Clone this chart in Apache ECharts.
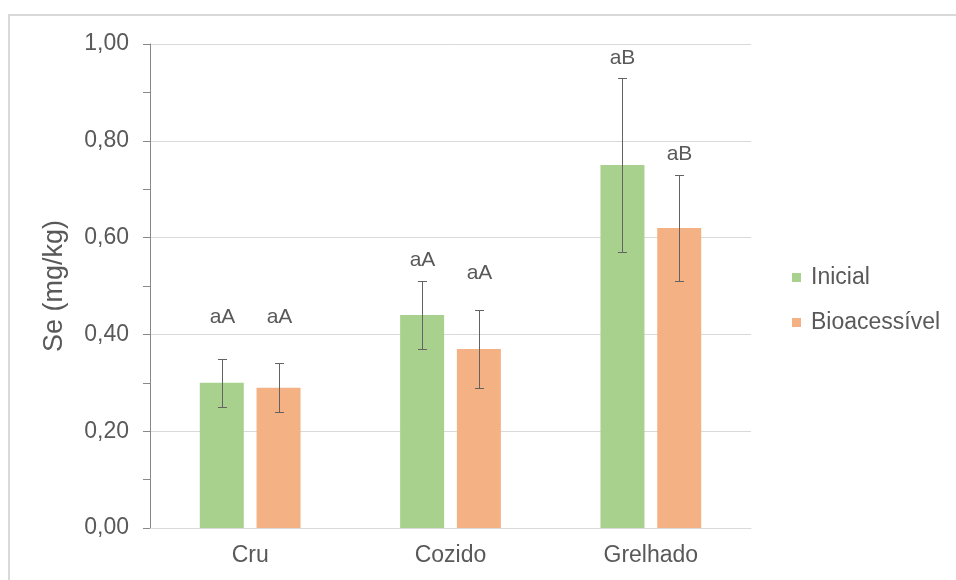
<!DOCTYPE html>
<html>
<head>
<meta charset="utf-8">
<script src="https://cdn.jsdelivr.net/npm/echarts@6/dist/echarts.min.js"></script>
<style>
  html, body { margin: 0; padding: 0; background: #ffffff; }
  #chart { width: 956px; height: 580px; }
</style>
</head>
<body>
<div id="chart"></div>
<script>
// Selenium content (mg/kg) by preparation, initial vs bioaccessible fraction
const categories = ['Cru', 'Cozido', 'Grelhado'];
const inicial = [0.30, 0.44, 0.75];
const inicialSd = [0.05, 0.07, 0.18];
const bioacessivel = [0.29, 0.37, 0.62];
const bioacessivelSd = [0.05, 0.08, 0.11];
const inicialLetters = ['aA', 'aA', 'aB'];
const bioacessivelLetters = ['aA', 'aA', 'aB'];
const yTicks = [0, 0.2, 0.4, 0.6, 0.8, 1.0];

// Layout / style settings
const FONT = "'Liberation Sans', Arial, sans-serif";
const TEXT = '#595959';
const GREEN = '#A9D18E';
const ORANGE = '#F4B183';
const BAR_W = 44;
const BAR_GAP = 0.29;
// distance (px) from the top of each error bar to the centre of its letter label
const inicialLetterLift = [41, 21, 20];
const bioLetterLift = [46, 37, 20];

const fmt = v => v.toFixed(2).replace('.', ',');

function errorSeries(name, values, sds, letters, lifts, side) {
  const data = values.map((v, i) => [i, v, sds[i]]);
  return {
    type: 'custom',
    name: name + ' DP',
    z: 5,
    silent: true,
    data: data,
    encode: { x: 0, y: 1 },
    renderItem: function (params, api) {
      const i = api.value(0);
      const v = api.value(1);
      const sd = api.value(2);
      const off = side * (BAR_W + BAR_W * BAR_GAP) / 2;
      const top = api.coord([i, v + sd]);
      const bot = api.coord([i, v - sd]);
      const x = Math.round(top[0] + off) + 0.5;
      const y1 = Math.round(top[1]) + 0.5;
      const y2 = Math.round(bot[1]) + 0.5;
      const cap = 4.5;
      const st = { stroke: '#636363', lineWidth: 1 };
      return {
        type: 'group',
        children: [
          { type: 'line', shape: { x1: x, y1: y1, x2: x, y2: y2 }, style: st },
          { type: 'line', shape: { x1: x - cap, y1: y1, x2: x + cap, y2: y1 }, style: st },
          { type: 'line', shape: { x1: x - cap, y1: y2, x2: x + cap, y2: y2 }, style: st },
          {
            type: 'text',
            style: {
              text: letters[params.dataIndex],
              x: x,
              y: top[1] - lifts[params.dataIndex],
              align: 'center',
              verticalAlign: 'middle',
              fill: TEXT,
              font: '21px ' + FONT
            }
          }
        ]
      };
    }
  };
}

const chart = echarts.init(document.getElementById('chart'), null, { renderer: 'canvas' });

chart.setOption({
  animation: false,
  backgroundColor: '#ffffff',
  textStyle: { fontFamily: FONT },
  graphic: [{
    type: 'rect',
    shape: { x: 9, y: 15, width: 1000, height: 1000 },
    style: { fill: 'none', stroke: '#d9d9d9', lineWidth: 2 },
    silent: true,
    z: -10
  }],
  grid: { left: 150, right: 205, top: 44, bottom: 52 },
  legend: {
    data: ['Inicial', 'Bioacessível'],
    orient: 'vertical',
    left: 792,
    top: 266,
    padding: 0,
    itemWidth: 9,
    itemHeight: 9,
    itemGap: 22,
    icon: 'rect',
    textStyle: { color: TEXT, fontSize: 23, fontFamily: FONT, padding: [0, 0, 0, 5] }
  },
  xAxis: {
    type: 'category',
    data: categories,
    axisLine: { lineStyle: { color: '#d9d9d9', width: 1 } },
    axisTick: { show: false },
    axisLabel: { color: TEXT, fontSize: 23, fontFamily: FONT, margin: 16 }
  },
  yAxis: {
    type: 'value',
    min: yTicks[0],
    max: yTicks[yTicks.length - 1],
    interval: yTicks[1] - yTicks[0],
    name: 'Se (mg/kg)',
    nameLocation: 'middle',
    nameGap: 82,
    nameTextStyle: { color: TEXT, fontSize: 27, fontFamily: FONT },
    axisLine: { show: true, lineStyle: { color: '#888888', width: 1 } },
    axisTick: { show: true, length: 7, lineStyle: { color: '#888888' } },
    minorTick: { show: true, splitNumber: 2, length: 7, lineStyle: { color: '#888888' } },
    axisLabel: { color: TEXT, fontSize: 23, fontFamily: FONT, margin: 21, formatter: fmt },
    splitLine: { show: true, lineStyle: { color: '#d9d9d9', width: 1 } }
  },
  series: [
    {
      name: 'Inicial',
      type: 'bar',
      data: inicial,
      barWidth: BAR_W,
      barGap: (BAR_GAP * 100) + '%',
      itemStyle: { color: GREEN }
    },
    {
      name: 'Bioacessível',
      type: 'bar',
      data: bioacessivel,
      barWidth: BAR_W,
      barGap: (BAR_GAP * 100) + '%',
      itemStyle: { color: ORANGE }
    },
    errorSeries('Inicial', inicial, inicialSd, inicialLetters, inicialLetterLift, -1),
    errorSeries('Bioacessível', bioacessivel, bioacessivelSd, bioacessivelLetters, bioLetterLift, 1)
  ]
});
</script>
</body>
</html>
